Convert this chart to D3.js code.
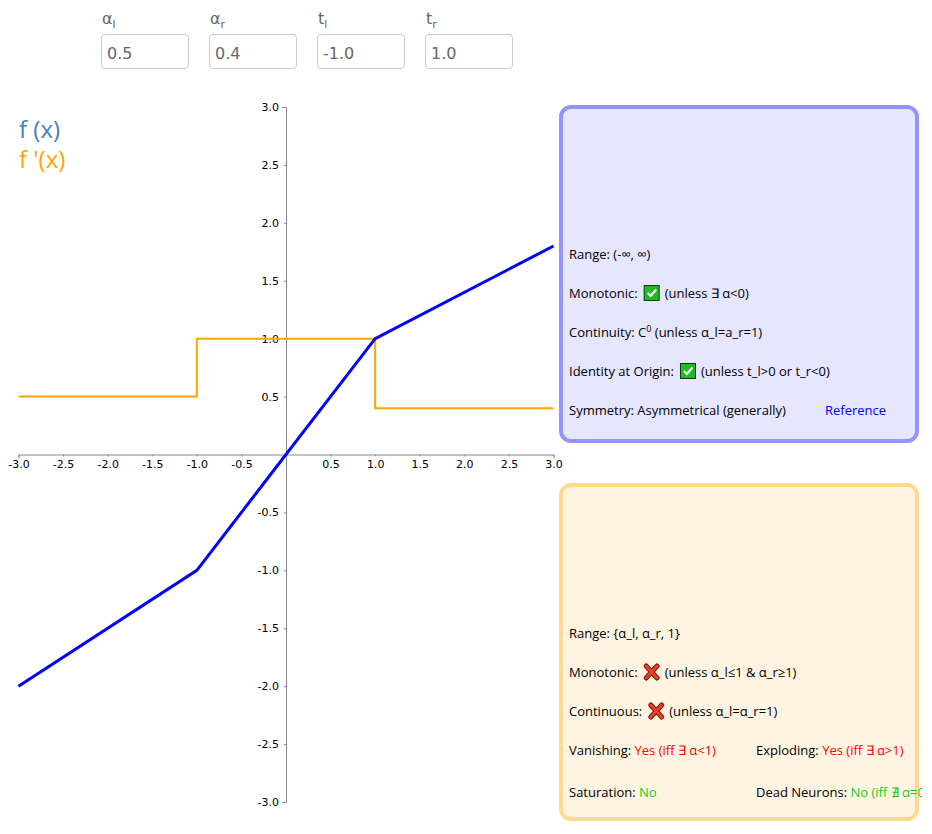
<!DOCTYPE html>
<html>
<head>
<meta charset="utf-8">
<script src="https://cdn.jsdelivr.net/npm/d3@7"></script>
<style>
  body { margin: 0; background: #fff; }
  #wrap { position: relative; width: 932px; height: 834px; overflow: hidden; }
  .param { position: absolute; top: 0; font-family: "DejaVu Sans", sans-serif; color: #666; }
  .param .lbl { position: absolute; top: 9px; left: 1px; font-size: 16px; white-space: nowrap; }
  .param .lbl sub { font-size: 11px; }
  .param input {
    position: absolute; top: 34px; left: 0; width: 88px; height: 35px; box-sizing: border-box;
    border: 1px solid #ccc; border-radius: 4px; padding: 3px 5px 0 5px; font-size: 16px;
    font-family: "DejaVu Sans", sans-serif; color: #666; background: #fff; outline: none;
  }
  svg { position: absolute; left: 0; top: 0; }
  .axis text { font-family: "DejaVu Sans", sans-serif; font-size: 11px; fill: #000; }
  .axis path, .axis line { stroke: #888; }
  .box text { font-family: "Open Sans", sans-serif; font-size: 13px; }
</style>
</head>
<body>
<div id="wrap"></div>
<script>
// parameters shown above the chart
const paramNames = ["α", "α", "t", "t"];
const paramSubs = ["l", "r", "l", "r"];
const paramValues = ["0.5", "0.4", "-1.0", "1.0"];
const paramLeft = [101, 209, 317, 425];

// axis ticks (zero not labelled)
const xTicks = [-3, -2.5, -2, -1.5, -1, -0.5, 0.5, 1, 1.5, 2, 2.5, 3];
const yTicks = [-3, -2.5, -2, -1.5, -1, -0.5, 0.5, 1, 1.5, 2, 2.5, 3];

// f(x) breakpoints and f'(x) steps
const fxPoints = [[-3, -2], [-1, -1], [1, 1], [3, 1.8]];
const dfxPoints = [[-3, 0.5], [-1, 1], [1, 0.4], [3, 0.4]];

const legendItems = [
  { label: "f (x)", color: "steelblue" },
  { label: "f '(x)", color: "orange" }
];

// info panels: each line is a list of segments
const fxInfo = [
  [{ t: "Range: (-∞, ∞)" }],
  [{ t: "Monotonic:" }, { icon: "check" }, { t: "(unless ∃ α<0)" }],
  [{ t: "Continuity: C" }, { t: "0", sup: true }, { t: "\u00a0(unless α_l=a_r=1)" }],
  [{ t: "Identity at Origin:" }, { icon: "check" }, { t: "(unless t_l>0 or t_r<0)" }],
  [{ t: "Symmetry: Asymmetrical (generally)" }]
];
const dfxInfo = [
  [{ t: "Range: {α_l, α_r, 1}" }],
  [{ t: "Monotonic:" }, { icon: "cross" }, { t: "(unless α_l≤1 & α_r≥1)" }],
  [{ t: "Continuous:" }, { icon: "cross" }, { t: "(unless α_l=α_r=1)" }],
  [{ t: "Vanishing:\u00a0" }, { t: "Yes (iff ∃ α<1)", c: "#ff0000" }],
  [{ t: "Saturation:\u00a0" }, { t: "No", c: "#1ccc1c" }]
];
const dfxInfoRight = [
  null, null, null,
  [{ t: "Exploding:\u00a0" }, { t: "Yes (iff ∃ α>1)", c: "#ff0000" }],
  [{ t: "Dead Neurons:\u00a0" }, { t: "No (iff ∄ α=0)", c: "#1ccc1c" }]
];

const wrap = d3.select("#wrap");

// parameter inputs
paramNames.forEach((n, i) => {
  const p = wrap.append("div").attr("class", "param").style("left", paramLeft[i] + "px");
  p.append("div").attr("class", "lbl").html(n + "<sub>" + paramSubs[i] + "</sub>");
  p.append("input").attr("type", "text").property("value", paramValues[i]);
});

const width = 932, height = 834;
const svg = wrap.append("svg").attr("width", width).attr("height", height);

const x = d3.scaleLinear().domain([-3, 3]).range([18.5, 553.5]);
const y = d3.scaleLinear().domain([-3, 3]).range([802, 107]);

const fmt = d => d.toFixed(1);

svg.append("g")
  .attr("class", "axis")
  .attr("transform", `translate(0,${y(0)})`)
  .call(d3.axisBottom(x).tickValues(xTicks).tickFormat(fmt).tickSizeInner(2).tickSizeOuter(4).tickPadding(4));

svg.append("g")
  .attr("class", "axis")
  .attr("transform", `translate(${x(0)},0)`)
  .call(d3.axisLeft(y).tickValues(yTicks).tickFormat(fmt).tickSizeInner(2).tickSizeOuter(4).tickPadding(5));

// derivative first so the function sits on top
svg.append("path")
  .datum(dfxPoints)
  .attr("fill", "none")
  .attr("stroke", "orange")
  .attr("stroke-width", 2)
  .attr("d", d3.line().x(d => x(d[0])).y(d => y(d[1])).curve(d3.curveStepAfter));

svg.append("path")
  .datum(fxPoints)
  .attr("fill", "none")
  .attr("stroke", "#0000ff")
  .attr("stroke-width", 3)
  .attr("d", d3.line().x(d => x(d[0])).y(d => y(d[1])));

// legend
svg.selectAll(".legend")
  .data(legendItems).enter()
  .append("text")
  .attr("x", 19)
  .attr("y", (d, i) => 138 + i * 30)
  .attr("fill", d => d.color)
  .style("font-family", "'Open Sans', sans-serif")
  .style("font-size", "24px")
  .text(d => d.label);

// icons
function drawIcon(g, kind, x0, yb) {
  if (kind === "check") {
    g.append("rect").attr("x", x0 + 0.5).attr("y", yb - 12.5).attr("width", 15).attr("height", 15)
      .attr("fill", "#22bb22").attr("stroke", "#0a3d0a").attr("stroke-width", 1);
    g.append("path").attr("d", `M${x0 + 4},${yb - 5} L${x0 + 7},${yb - 2} L${x0 + 12.5},${yb - 8.5}`)
      .attr("fill", "none").attr("stroke", "#fff").attr("stroke-width", 2);
  } else {
    const d = `M${x0 + 2.5},${yb - 11} L${x0 + 13.5},${yb + 1} M${x0 + 13.5},${yb - 11} L${x0 + 2.5},${yb + 1}`;
    g.append("path").attr("d", d)
      .attr("fill", "none").attr("stroke", "#7a1a0a").attr("stroke-width", 5).attr("stroke-linecap", "round");
    g.append("path").attr("d", d)
      .attr("fill", "none").attr("stroke", "#e8402a").attr("stroke-width", 3).attr("stroke-linecap", "round");
  }
}

function drawLine(g, segs, x0, yb) {
  let cx = x0;
  segs.forEach(s => {
    if (s.icon) {
      cx += 6;
      drawIcon(g, s.icon, cx, yb);
      cx += 16 + 5;
    } else {
      const t = g.append("text")
        .attr("x", cx)
        .attr("y", s.sup ? yb - 5 : yb)
        .style("fill", s.c || "#000")
        .style("font-size", s.sup ? "9px" : null)
        .text(s.t);
      cx += t.node().getComputedTextLength();
    }
  });
}

// panel backgrounds
const panels = [
  { y0: 107, lines: fxInfo, right: null, stroke: "#9494ff", fill: "#e6e6ff", base: 259 },
  { y0: 485, lines: dfxInfo, right: dfxInfoRight, stroke: "#ffd98e", fill: "#fff4e2", base: 638 }
];

svg.append("clipPath").attr("id", "pageClip")
  .append("rect").attr("x", 0).attr("y", 0).attr("width", 922).attr("height", height);

panels.forEach(p => {
  const g = svg.append("g").attr("class", "box").attr("clip-path", "url(#pageClip)");
  g.append("rect")
    .attr("x", 561).attr("y", p.y0)
    .attr("width", 356).attr("height", 334)
    .attr("rx", 10)
    .attr("fill", p.fill)
    .attr("stroke", p.stroke)
    .attr("stroke-width", 4);
  p.lines.forEach((segs, i) => {
    const yb = p.base + i * 39 + (i === 4 && p.right ? 3 : 0);
    drawLine(g, segs, 569, yb);
    if (p.right && p.right[i]) drawLine(g, p.right[i], 756, yb);
  });
});

// reference link in the f(x) panel
svg.append("text")
  .attr("x", 825).attr("y", 259 + 4 * 39)
  .attr("fill", "#0000ff")
  .style("font-family", "'Open Sans', sans-serif")
  .style("font-size", "13px")
  .text("Reference");
</script>
</body>
</html>
